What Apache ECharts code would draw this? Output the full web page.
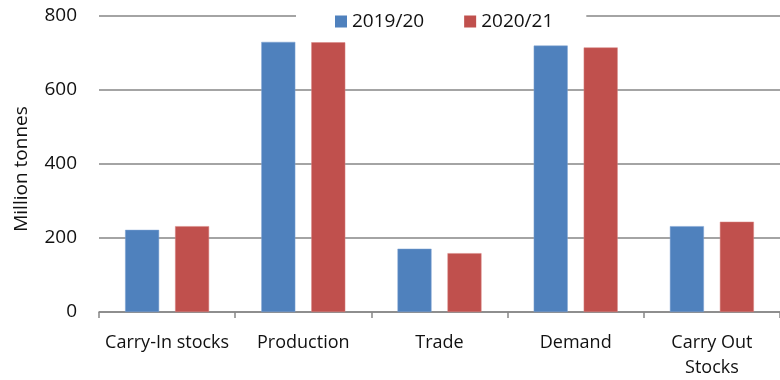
<!DOCTYPE html>
<html>
<head>
<meta charset="utf-8">
<script src="https://cdn.jsdelivr.net/npm/echarts@6/dist/echarts.min.js"></script>
<style>
  html, body { margin: 0; padding: 0; background: #fff; }
  #chart { width: 780px; height: 380px; }
</style>
</head>
<body>
<div id="chart"></div>
<script>
// data
const categories = ['Carry-In stocks', 'Production', 'Trade', 'Demand', 'Carry Out\nStocks']
const seriesNames = ['2019/20', '2020/21']
const values1920 = [222, 730, 171, 720, 232]
const values2021 = [232, 729, 159, 715, 244]

const font = '"Open Sans", "Liberation Sans", sans-serif'

let myChart = echarts.init(document.getElementById('chart'))
myChart.setOption({
  animation: false,
  textStyle: { fontFamily: font },
  // legend sits on top of the 800 gridline, white box breaks the line
  legend: {
    top: 10,
    left: 296,
    itemWidth: 12,
    itemHeight: 12,
    itemGap: 40,
    icon: 'rect',
    padding: [2, 33, 2, 39],
    backgroundColor: '#fff',
    itemStyle: { borderWidth: 0 },
    textStyle: { fontSize: 19, color: '#111', fontFamily: font }
  },
  grid: {
    left: 99,
    top: 16,
    width: 686,
    height: 296,
    containLabel: false
  },
  xAxis: {
    type: 'category',
    data: categories,
    axisLine: { lineStyle: { color: '#868686', width: 1.5 } },
    axisTick: { show: true, interval: 0, length: 6, lineStyle: { color: '#868686', width: 1.5 } },
    axisLabel: { interval: 0, fontSize: 18, color: '#111', margin: 18, lineHeight: 25, fontFamily: font }
  },
  yAxis: {
    type: 'value',
    min: 0,
    max: 800,
    interval: 200,
    name: 'Million tonnes',
    nameLocation: 'middle',
    nameGap: 68,
    // rotated text: right padding pushes it down a bit
    nameTextStyle: { fontSize: 19, color: '#111', fontFamily: font, padding: [0, 10, 0, 0] },
    axisLine: { show: false },
    axisTick: { show: false },
    axisLabel: { fontSize: 19, color: '#111', margin: 22, fontFamily: font },
    splitLine: { lineStyle: { color: '#868686', width: 1.5 } }
  },
  series: [
    {
      name: seriesNames[0],
      type: 'bar',
      data: values1920,
      barWidth: 34,
      barGap: '47%',
      itemStyle: { color: '#4f81bd', borderColor: '#7fa3d3', borderWidth: 0.5 }
    },
    {
      name: seriesNames[1],
      type: 'bar',
      data: values2021,
      barWidth: 34,
      barGap: '47%',
      itemStyle: { color: '#c0504d', borderColor: '#d98482', borderWidth: 0.5 }
    }
  ]
})
</script>
</body>
</html>
